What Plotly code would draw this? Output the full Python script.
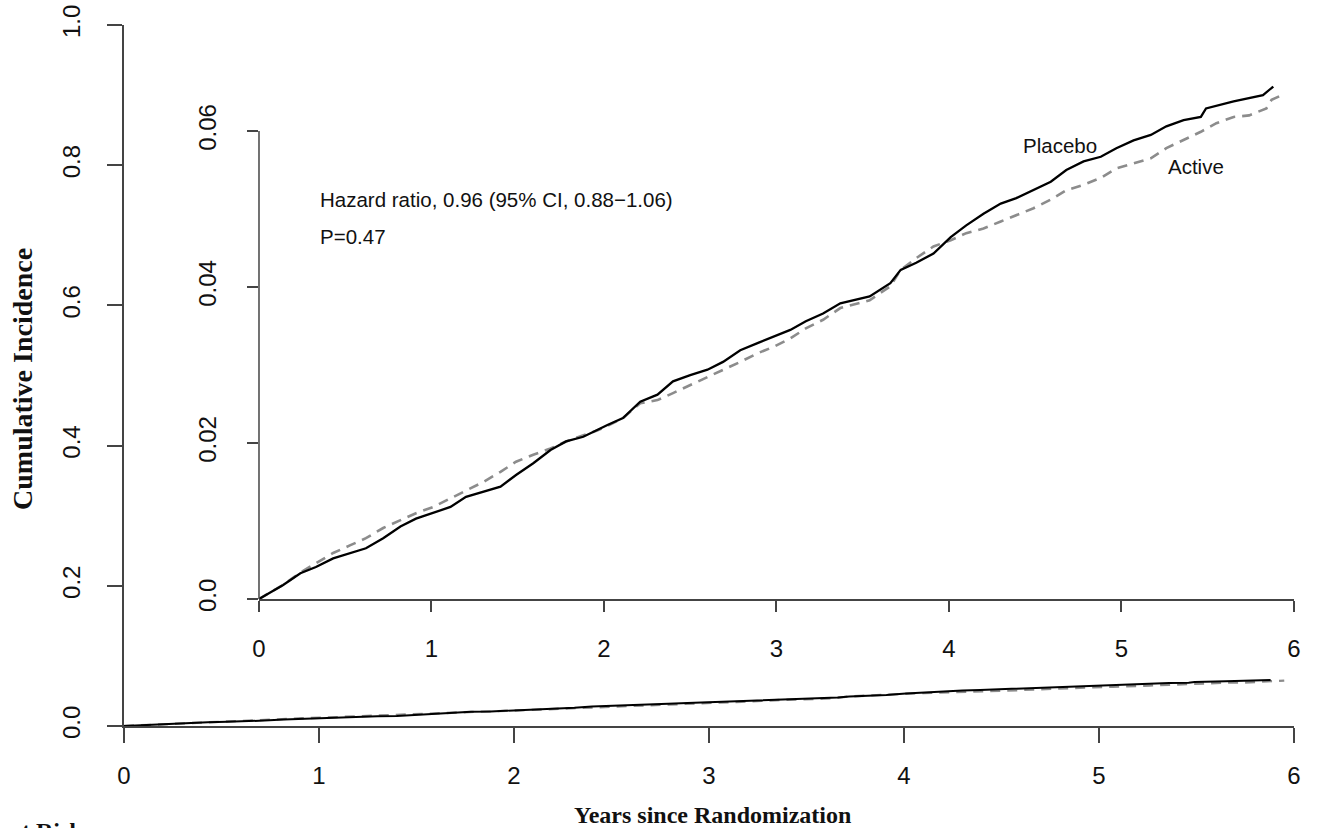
import plotly.graph_objects as go

# ---- data ----
placebo_t = [0, 0.14, 0.24, 0.33, 0.43, 0.53, 0.62, 0.72, 0.82, 0.91, 1.01, 1.11, 1.20, 1.30, 1.40,
             1.49, 1.59, 1.69, 1.78, 1.88, 1.96, 2.02, 2.11, 2.21, 2.31, 2.40, 2.50, 2.60, 2.69, 2.79,
             2.89, 2.98, 3.08, 3.17, 3.27, 3.37, 3.54, 3.66, 3.72, 3.81, 3.91, 4.01, 4.10, 4.20, 4.30,
             4.39, 4.49, 4.59, 4.68, 4.78, 4.88, 4.97, 5.07, 5.17, 5.26, 5.36, 5.46, 5.49, 5.65, 5.74,
             5.82, 5.88]
placebo_ci = [0, 0.0018, 0.0033, 0.0041, 0.0052, 0.0059, 0.0065, 0.0078, 0.0093, 0.0103, 0.0110, 0.0118,
              0.0131, 0.0138, 0.0144, 0.0159, 0.0174, 0.0191, 0.0202, 0.0208, 0.0217, 0.0223, 0.0232,
              0.0253, 0.0262, 0.0279, 0.0287, 0.0294, 0.0304, 0.0319, 0.0328, 0.0336, 0.0345, 0.0356,
              0.0366, 0.0379, 0.0388, 0.0405, 0.0422, 0.0431, 0.0443, 0.0464, 0.0479, 0.0494, 0.0507,
              0.0514, 0.0524, 0.0535, 0.0550, 0.0561, 0.0567, 0.0578, 0.0588, 0.0595, 0.0606, 0.0614,
              0.0618, 0.0629, 0.0638, 0.0642, 0.0646, 0.0657]

active_t = [0, 0.14, 0.24, 0.33, 0.43, 0.53, 0.62, 0.72, 0.82, 0.91, 1.01, 1.11, 1.20, 1.30, 1.40,
            1.49, 1.59, 1.69, 1.78, 1.88, 1.96, 2.02, 2.11, 2.21, 2.31, 2.40, 2.50, 2.60, 2.69, 2.79,
            2.89, 2.98, 3.08, 3.17, 3.27, 3.37, 3.54, 3.66, 3.72, 3.81, 3.91, 4.01, 4.10, 4.20, 4.30,
            4.39, 4.49, 4.59, 4.68, 4.78, 4.88, 4.97, 5.07, 5.17, 5.26, 5.36, 5.46, 5.55, 5.65, 5.74,
            5.84, 5.87, 5.95]
active_ci = [0, 0.0018, 0.0034, 0.0046, 0.0059, 0.0069, 0.0078, 0.0091, 0.0101, 0.0110, 0.0118, 0.0129,
             0.0138, 0.0150, 0.0163, 0.0176, 0.0185, 0.0193, 0.0202, 0.0210, 0.0216, 0.0222, 0.0232,
             0.0251, 0.0255, 0.0264, 0.0274, 0.0285, 0.0294, 0.0304, 0.0315, 0.0323, 0.0334, 0.0347,
             0.0358, 0.0373, 0.0383, 0.0401, 0.0422, 0.0437, 0.0452, 0.0460, 0.0469, 0.0475, 0.0484,
             0.0492, 0.0501, 0.0512, 0.0524, 0.0531, 0.0540, 0.0552, 0.0559, 0.0565, 0.0578, 0.0588,
             0.0599, 0.0610, 0.0618, 0.0620, 0.0629, 0.0640, 0.0648]

x_ticks = [0, 1, 2, 3, 4, 5, 6]
outer_y_ticks = [0.0, 0.2, 0.4, 0.6, 0.8, 1.0]
inner_y_ticks = [0.0, 0.02, 0.04, 0.06]
inner_y_labels = ["0.0", "0.02", "0.04", "0.06"]

hr_text = "Hazard ratio, 0.96 (95% CI, 0.88\u22121.06)"
p_text = "P=0.47"

# ---- layout geometry (page body margin removed, figure at page origin) ----
W, H = 1321, 828
ML, MR, MT, MB = 124, 27, 25, 102
inner_x_dom = [0.11538, 1.0]
inner_y_range = [0, 0.068]
inner_y_dom = [0.18117, 0.18117 + 0.75663]

BLACK = "#000000"
GREY = "#8c8c8c"
AXC = "#444444"
tick_font = dict(family="Liberation Sans, Arial", size=24, color="#111111")
ann_font = dict(family="Liberation Sans, Arial", size=20.5, color="#111111")
title_font = dict(family="Liberation Serif, Times New Roman", color="#111111")

fig = go.Figure()

# outer curves
fig.add_trace(go.Scatter(x=active_t, y=active_ci, mode="lines",
                         line=dict(color=GREY, width=2.4, dash="10px,7px"),
                         xaxis="x", yaxis="y", showlegend=False, hoverinfo="skip"))
fig.add_trace(go.Scatter(x=placebo_t, y=placebo_ci, mode="lines",
                         line=dict(color=BLACK, width=2.0),
                         xaxis="x", yaxis="y", showlegend=False, hoverinfo="skip"))
# inner (zoomed) curves
fig.add_trace(go.Scatter(x=active_t, y=active_ci, mode="lines",
                         line=dict(color=GREY, width=2.6, dash="10px,7px"),
                         xaxis="x2", yaxis="y2", showlegend=False, hoverinfo="skip"))
fig.add_trace(go.Scatter(x=placebo_t, y=placebo_ci, mode="lines",
                         line=dict(color=BLACK, width=2.3),
                         xaxis="x2", yaxis="y2", showlegend=False, hoverinfo="skip"))

common_axis = dict(showgrid=False, zeroline=False, ticks="outside", tickcolor=AXC, tickwidth=1.5,
                   linecolor=AXC, linewidth=1.5, tickfont=tick_font, automargin=False,
                   ticklabeloverflow="allow")

fig.update_layout(
    width=W, height=H,
    margin=dict(l=ML, r=MR, t=MT, b=MB),
    paper_bgcolor="white", plot_bgcolor="rgba(0,0,0,0)",
    xaxis=dict(domain=[0, 1], range=[0, 6], tickvals=x_ticks, ticklen=15, showline=True,
               anchor="y", ticklabelstandoff=12, **common_axis),
    yaxis=dict(domain=[0, 1], range=[0, 1], tickvals=outer_y_ticks, tickformat=".1f", ticklen=15,
               showline=True, tickangle=-90, anchor="x", ticklabelstandoff=18, **common_axis),
    xaxis2=dict(domain=inner_x_dom, range=[0, 6], tickvals=x_ticks, ticklen=11, showline=True,
                anchor="y2", ticklabelstandoff=16, **common_axis),
    yaxis2=dict(domain=inner_y_dom, range=inner_y_range, tickvals=inner_y_ticks,
                ticktext=inner_y_labels, ticklen=11, showline=False,
                tickangle=-90, anchor="x2", ticklabelstandoff=21, **common_axis),
)

# inner y-axis line only from 0 to 0.06 (as in the reference)
y_top_paper = inner_y_dom[0] + (inner_y_ticks[-1] - inner_y_range[0]) / (inner_y_range[1] - inner_y_range[0]) * (inner_y_dom[1] - inner_y_dom[0])
fig.add_shape(type="line", xref="paper", yref="paper",
              x0=inner_x_dom[0], x1=inner_x_dom[0], y0=inner_y_dom[0], y1=y_top_paper,
              line=dict(color=AXC, width=1.5))

# annotations inside the zoomed panel
fig.add_annotation(x=0.342, y=0.0512, xref="x2", yref="y2", text=hr_text, showarrow=False,
                   xanchor="left", yanchor="middle", font=ann_font)
fig.add_annotation(x=0.342, y=0.0465, xref="x2", yref="y2", text=p_text, showarrow=False,
                   xanchor="left", yanchor="middle", font=ann_font)
fig.add_annotation(x=4.643, y=0.0582, xref="x2", yref="y2", text="Placebo", showarrow=False,
                   xanchor="center", yanchor="middle", font=ann_font)
fig.add_annotation(x=5.43, y=0.0554, xref="x2", yref="y2", text="Active", showarrow=False,
                   xanchor="center", yanchor="middle", font=ann_font)

# axis titles
fig.add_annotation(x=0.5034, y=-0.127, xref="paper", yref="paper", text="<b>Years since Randomization</b>",
                   showarrow=False, xanchor="center", yanchor="middle", font=dict(size=24, **title_font))
fig.add_annotation(x=-0.0872, y=0.495, xref="paper", yref="paper", text="<b>Cumulative Incidence</b>",
                   showarrow=False, textangle=-90, xanchor="center", yanchor="middle",
                   font=dict(size=28, **title_font))
# partially visible label at the very bottom
fig.add_annotation(x=-0.0889, y=-0.128, xref="paper", yref="paper", text="<b>t Risk</b>",
                   showarrow=False, xanchor="left", yanchor="top", font=dict(size=24, **title_font))

fig.write_html("out.html", config={"displayModeBar": False},
               post_script="document.body.style.margin='0';document.body.style.overflow='hidden';")
